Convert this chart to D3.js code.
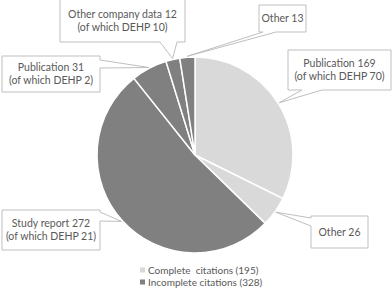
<!DOCTYPE html>
<html>
<head>
<meta charset="utf-8">
<script src="https://cdn.jsdelivr.net/npm/d3@7"></script>
<style>
  html, body { margin: 0; padding: 0; background: #fff; }
  svg { display: block; font-family: Lato, "Open Sans", sans-serif; }
</style>
</head>
<body>
<svg id="chart" width="392" height="288"></svg>
<script>
// ── Data ──
const categories = ["Publication", "Other", "Study report", "Publication", "Other company data", "Other"];
const values = [169, 26, 272, 31, 12, 13];
const dehp = [70, null, 21, 2, 10, null];
const groups = ["complete", "complete", "incomplete", "incomplete", "incomplete", "incomplete"];
const legendKeys = ["complete", "incomplete"];
const legendLabels = ["Complete  citations (195)", "Incomplete citations (328)"];

// ── Layout for callout boxes (one per slice, same order) ──
const callouts = [
  { x: 288, y: 50, w: 103, h: 40, side: "bottom", b: [302, 322] },
  { x: 311, y: 216, w: 57, h: 32, side: "left", b: [218, 226] },
  { x: 2, y: 210, w: 98, h: 40, side: "right", b: [212, 221] },
  { x: 2, y: 56, w: 98, h: 36, side: "right", b: [60, 68] },
  { x: 60, y: -1, w: 125, h: 43, side: "bottom", b: [160, 177] },
  { x: 259, y: 5, w: 47, h: 27, side: "bottom", b: [263, 276] }
];

const width = 392, height = 288;
const cx = 195, cy = 155, radius = 98;
const color = d3.scaleOrdinal().domain(legendKeys).range(["#d9d9d9", "#808080"]);
const textColor = "#595959";

const svg = d3.select("#chart");

// ── Pie ──
const pie = d3.pie().sort(null).value((d) => d);
const arcs = pie(values);
const arc = d3.arc().innerRadius(0).outerRadius(radius);

const g = svg.append("g").attr("transform", `translate(${cx},${cy})`);
g.selectAll("path")
  .data(arcs)
  .join("path")
  .attr("d", arc)
  .attr("fill", (d, i) => color(groups[i]))
  .attr("stroke", "#fff")
  .attr("stroke-width", 1.5);

// ── Callouts ──
function calloutPath(c, tip) {
  const x0 = c.x, y0 = c.y, x1 = c.x + c.w, y1 = c.y + c.h;
  const [b0, b1] = c.b;
  const p = d3.path();
  p.moveTo(x0, y0);
  if (c.side === "top") { p.lineTo(b0, y0); p.lineTo(tip[0], tip[1]); p.lineTo(b1, y0); }
  p.lineTo(x1, y0);
  if (c.side === "right") { p.lineTo(x1, b0); p.lineTo(tip[0], tip[1]); p.lineTo(x1, b1); }
  p.lineTo(x1, y1);
  if (c.side === "bottom") { p.lineTo(b1, y1); p.lineTo(tip[0], tip[1]); p.lineTo(b0, y1); }
  p.lineTo(x0, y1);
  if (c.side === "left") { p.lineTo(x0, b1); p.lineTo(tip[0], tip[1]); p.lineTo(x0, b0); }
  p.closePath();
  return p.toString();
}

arcs.forEach((a, i) => {
  const c = callouts[i];
  const mid = (a.startAngle + a.endAngle) / 2;
  const tip = [cx + Math.sin(mid) * (radius + 1), cy - Math.cos(mid) * (radius + 1)];
  svg.append("path")
    .attr("d", calloutPath(c, tip))
    .attr("fill", "#fff")
    .attr("stroke", "#bfbfbf")
    .attr("stroke-width", 1);

  const lines = [`${categories[i]} ${values[i]}`];
  if (dehp[i] != null) lines.push(`(of which DEHP ${dehp[i]})`);
  const lh = 13;
  const startY = c.y + c.h / 2 - (lines.length - 1) * lh / 2;
  const t = svg.append("text")
    .attr("text-anchor", "middle")
    .attr("font-size", 10.5)
    .attr("fill", textColor);
  lines.forEach((ln, j) => {
    t.append("tspan")
      .attr("x", c.x + c.w / 2)
      .attr("y", startY + j * lh)
      .attr("dy", "0.35em")
      .text(ln);
  });
});

// ── Legend ──
const legend = svg.append("g").attr("transform", "translate(140,270)");
legendKeys.forEach((k, i) => {
  const row = legend.append("g").attr("transform", `translate(0,${i * 12})`);
  row.append("rect")
    .attr("x", 0).attr("y", -2.5)
    .attr("width", 5).attr("height", 5)
    .attr("fill", color(k));
  row.append("text")
    .attr("x", 8)
    .attr("dy", "0.35em")
    .attr("font-size", 10)
    .attr("fill", textColor)
    .style("white-space", "pre")
    .text(legendLabels[i]);
});
</script>
</body>
</html>
